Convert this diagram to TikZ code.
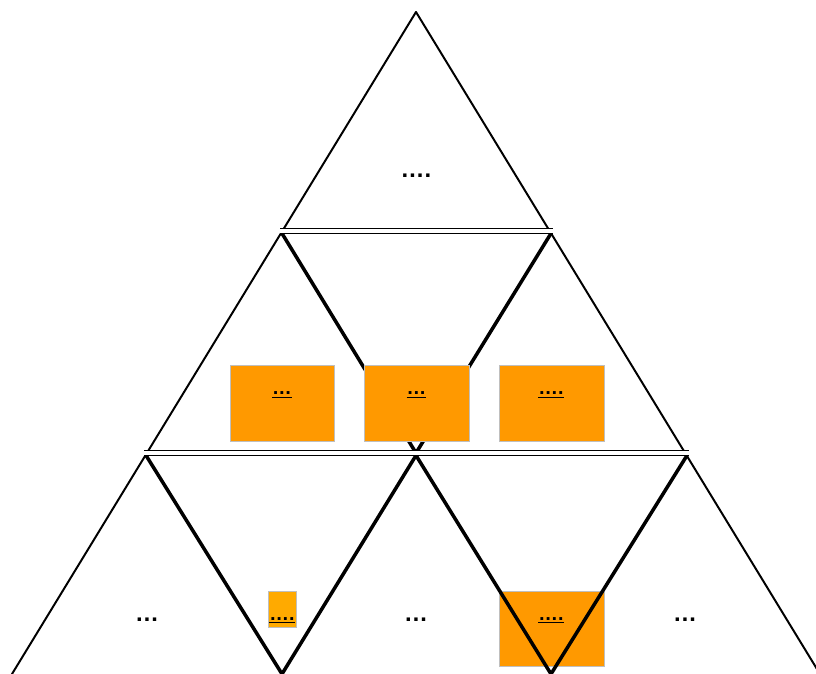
\documentclass[tikz,border=0pt]{standalone}
\usepackage{fontspec}
\setmainfont{Liberation Sans}
\usepackage{xcolor}
\usetikzlibrary{positioning, calc}

\definecolor{boxorange}{HTML}{FF9900}
\definecolor{boxamber}{HTML}{FFAA00}

\begin{document}
\begin{tikzpicture}[
    x=0.025cm, y=-0.025cm,
    thinside/.style={draw, line width=1.4pt, line cap=round},
    thickside/.style={draw, line width=2.5pt, line join=miter},
    seam/.style={draw, double, line width=0.9pt, double distance=2.2pt},
    obox/.style={draw=gray!50, line width=0.4pt, fill=boxorange, inner sep=0pt},
    bigdots/.style={font=\fontsize{17}{20}\selectfont\bfseries, anchor=base, inner sep=0pt},
    boxdots/.style={font=\fontsize{14}{17}\selectfont\bfseries, anchor=base, inner sep=0pt}
]
\useasboundingbox (0,0) rectangle (816,674);
\clip (0,0) rectangle (816,674);

% corner points of the rows
\coordinate (apex) at (416,12);
\coordinate (l1) at (282,231);
\coordinate (r1) at (551,231);
\coordinate (l2) at (146,453);
\coordinate (m2) at (416,453);
\coordinate (r2) at (687,453);
\coordinate (l3) at (12,674);
\coordinate (m3a) at (282,674);
\coordinate (m3b) at (551,674);
\coordinate (r3) at (820,674);

% orange box of the bottom row sits under the lines
\node[obox, minimum width=105*0.025cm, minimum height=75*0.025cm] (b5) at (551.5,628.5) {};

% outer edges
\draw[thinside] (apex) -- (l3);
\draw[thinside] (apex) -- (r3);

% inverted triangles
\draw[thickside] ([yshift=-0.06cm]l1) -- (m2) -- ([yshift=-0.06cm]r1);
\draw[thickside] ([yshift=-0.06cm]l2) -- (m3a) -- ([yshift=-0.06cm]m2) -- (m3b) -- ([yshift=-0.06cm]r2);

% row seams
\draw[seam] ([xshift=-0.05cm]l1) -- ([xshift=0.05cm]r1);
\draw[seam] ([xshift=-0.05cm]l2) -- ([xshift=0.05cm]r2);

% boxes of the middle row
\node[obox, minimum width=104*0.025cm, minimum height=76*0.025cm] (b1) at (282,403) {};
\node[obox, minimum width=105*0.025cm, minimum height=76*0.025cm] (b2) at (416.5,403) {};
\node[obox, minimum width=105*0.025cm, minimum height=76*0.025cm] (b3) at (551.5,403) {};
\node[obox, fill=boxamber, minimum width=28*0.025cm, minimum height=36*0.025cm] (b4) at (282,609) {};

% texts
\node[bigdots] (t0) at (416,178) {….};
\node[boxdots] (t1) at (282,395) {\underline{…}};
\node[boxdots] (t2) at (416.5,395) {\underline{…}};
\node[boxdots] (t3) at (551,395) {\underline{….}};
\node[bigdots] (t4) at (147,621.5) {…};
\node[boxdots] (t5) at (282,620) {\underline{….}};
\node[bigdots] (t6) at (416,621.5) {…};
\node[boxdots] (t7) at (551,620) {\underline{….}};
\node[bigdots] (t8) at (685,621.5) {…};

\end{tikzpicture}
\end{document}
